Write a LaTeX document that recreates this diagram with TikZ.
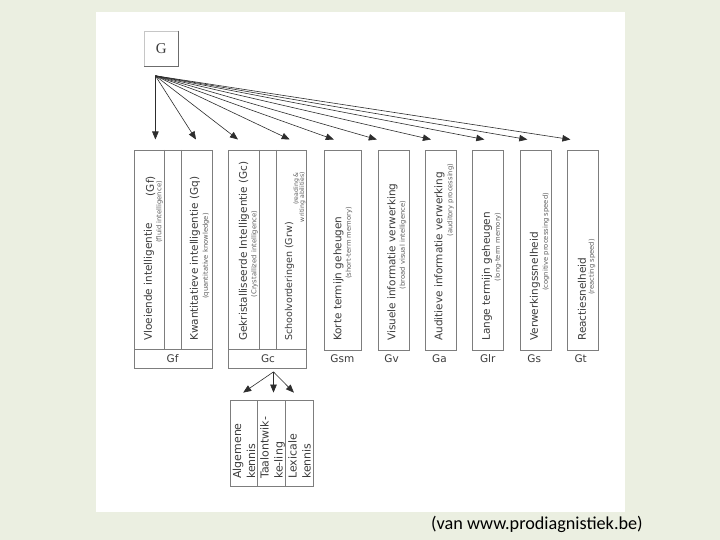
\documentclass[tikz,border=0pt]{standalone}
\usepackage{fontspec}
\newfontfamily\djfont{DejaVu Sans}
\newfontfamily\capfont{Carlito}
\newfontfamily\serfont{Liberation Serif}
\usetikzlibrary{arrows.meta}
\definecolor{bgc}{RGB}{235,239,225}
\definecolor{linec}{RGB}{125,125,125}
\definecolor{arrc}{RGB}{45,45,45}
\definecolor{txtc}{RGB}{60,60,60}
\definecolor{smc}{RGB}{95,95,95}
\begin{document}
\begin{tikzpicture}[x=1pt,y=-1pt,
  box/.style={draw=linec, line width=0.9pt, fill=white, inner sep=0, anchor=north west},
  divl/.style={draw=linec, line width=0.9pt},
  mtext/.style={font=\djfont\fontsize{10.5}{12}\selectfont, text=txtc, rotate=90, inner sep=0},
  stext/.style={font=\djfont\fontsize{6.8}{7.5}\selectfont, text=smc, rotate=90, inner sep=0},
  lbl/.style={font=\djfont\fontsize{10.5}{12}\selectfont, text=txtc, inner sep=0},
  subtext/.style={font=\djfont\fontsize{11}{14}\selectfont, text=txtc, rotate=90, inner sep=0, align=left, anchor=north west},
  arr/.style={draw=arrc, line width=0.6pt, -{Triangle[length=8pt,width=6.5pt]}},
]
\useasboundingbox (0,0) rectangle (720,540);
\fill[bgc] (0,0) rectangle (720,540);
\fill[white] (96,12) rectangle (625,512);

% G box
\node[draw=gray!45, line width=0.6pt, fill=white, minimum width=34pt, minimum height=35pt, inner sep=0,
      font=\serfont\fontsize{15}{15}\selectfont, text=txtc] (G) at (161.2,48.5) {G};
\draw[gray!85!black, line width=1.3pt] (G.north east) -- (G.south east) -- (G.south west);

% arrow source and tips
\coordinate (src) at (155.4,75.8);
\coordinate (t1) at (155.4,139.5);
\coordinate (t2) at (196,139.5);
\coordinate (t3) at (238,139.5);
\coordinate (t4) at (289.7,139.5);
\coordinate (t5) at (333.8,139.5);
\coordinate (t6) at (376.8,139.5);
\coordinate (t7) at (430.9,139.5);
\coordinate (t8) at (484.3,139.5);
\coordinate (t9) at (527.3,139.5);
\coordinate (t10) at (570.4,139.5);
\foreach \t in {t1,t2,t3,t4,t5,t6,t7,t8,t9,t10} \draw[arr] (src) -- (\t);

% group Gf
\node[box, minimum width=77.5pt, minimum height=218pt] (gfg) at (134.1,149.8) {};
\draw[divl] (134.1,349.5) -- (211.6,349.5);
\draw[divl] (164.7,149.8) -- (164.7,349.5);
\draw[divl] (181.3,149.8) -- (181.3,349.5);
% group Gc
\node[box, minimum width=77.9pt, minimum height=218pt] (gcg) at (228.4,149.8) {};
\draw[divl] (228.4,349.5) -- (306.3,349.5);
\draw[divl] (259.4,149.8) -- (259.4,349.5);
\draw[divl] (276.3,149.8) -- (276.3,349.5);
% single columns
\node[box, minimum width=37.2pt, minimum height=199.7pt] (gsm) at (323.5,149.8) {};
\node[box, minimum width=30.6pt, minimum height=199.7pt] (gv) at (377.9,149.8) {};
\node[box, minimum width=30.3pt, minimum height=199.7pt] (ga) at (425.4,149.8) {};
\node[box, minimum width=31pt, minimum height=199.7pt] (glr) at (472.2,149.8) {};
\node[box, minimum width=30.6pt, minimum height=199.7pt] (gs) at (520.1,149.8) {};
\node[box, minimum width=31pt, minimum height=199.7pt] (gt) at (567.3,149.8) {};

% main texts
\node[mtext, anchor=west] (m1) at (149,341) {Vloeiende intelligentie};
\node[mtext, anchor=east] (m1b) at (150.5,176) {(Gf)};
\node[mtext, anchor=west] (m2) at (195,341) {Kwantitatieve intelligentie (Gq)};
\node[mtext, anchor=west] (m3) at (244,341) {Gekristalliseerde Intelligentie (Gc)};
\node[mtext, anchor=west, font=\djfont\fontsize{9.5}{11}\selectfont] (m4) at (289.5,341) {Schoolvorderingen (Grw)};
\node[mtext, anchor=west] (m5) at (338.5,341) {Korte termijn geheugen};
\node[mtext, anchor=west] (m6) at (392.5,341) {Visuele informatie verwerking};
\node[mtext, anchor=west] (m7) at (439.5,341) {Auditieve informatie verwerking};
\node[mtext, anchor=west] (m8) at (487,341) {Lange termijn geheugen};
\node[mtext, anchor=west] (m9) at (535,341) {Verwerkingssnelheid};
\node[mtext, anchor=west] (m10) at (582,341) {Reactiesnelheid};

% small texts
\node[stext] (s1) at (159.5,212) {(fluid intelligence)};
\node[stext] (s2) at (206,256) {(quantitative knowledge)};
\node[stext] (s3) at (254.5,254) {(Crystallized intelligence)};
\node[stext, font=\djfont\fontsize{6.2}{7}\selectfont, anchor=east] (s4a) at (296.5,172) {(reading \&};
\node[stext, font=\djfont\fontsize{6.2}{7}\selectfont, anchor=east] (s4b) at (302.5,172) {writing abilities)};
\node[stext] (s5) at (349,243) {(short-term memory)};
\node[stext] (s6) at (403,245) {(broad visual intelligence)};
\node[stext] (s7) at (450.5,200) {(auditory processing)};
\node[stext] (s8) at (498,247) {(long-term memory)};
\node[stext] (s9) at (546,242) {(cognitive processing speed)};
\node[stext] (s10) at (592,267) {(reacting speed)};

% labels
\node[lbl] (l1) at (172.6,359) {Gf};
\node[lbl] (l2) at (268,359) {Gc};
\node[lbl] (l3) at (342.4,359) {Gsm};
\node[lbl] (l4) at (391.6,359) {Gv};
\node[lbl] (l5) at (439.5,359) {Ga};
\node[lbl] (l6) at (487.7,359) {Glr};
\node[lbl] (l7) at (534.2,359) {Gs};
\node[lbl] (l8) at (580.7,359) {Gt};

% sub arrows
\coordinate (gcsrc) at (273.5,371.9);
\coordinate (u1) at (243.2,392.6);
\coordinate (u2) at (273.5,392.6);
\coordinate (u3) at (293.9,392.6);
\foreach \u in {u1,u2,u3} \draw[arr] (gcsrc) -- (\u);

% sub box
\node[box, minimum width=83.3pt, minimum height=85.4pt] (sub) at (229.8,400.1) {};
\draw[divl] (257.7,400.1) -- (257.7,485.5);
\draw[divl] (285.2,400.1) -- (285.2,485.5);
\node[subtext] (k1) at (232.5,479) {Algemene\\kennis};
\node[subtext] (k2) at (260,479) {Taalontwik-\\ke-ling};
\node[subtext] (k3) at (288,479) {Lexicale\\kennis};

% caption
\node[font=\capfont\fontsize{18.2}{20}\selectfont, text=black, inner sep=0] (cap) at (537,524) {(van www.prodiagnistiek.be)};
\end{tikzpicture}
\end{document}
